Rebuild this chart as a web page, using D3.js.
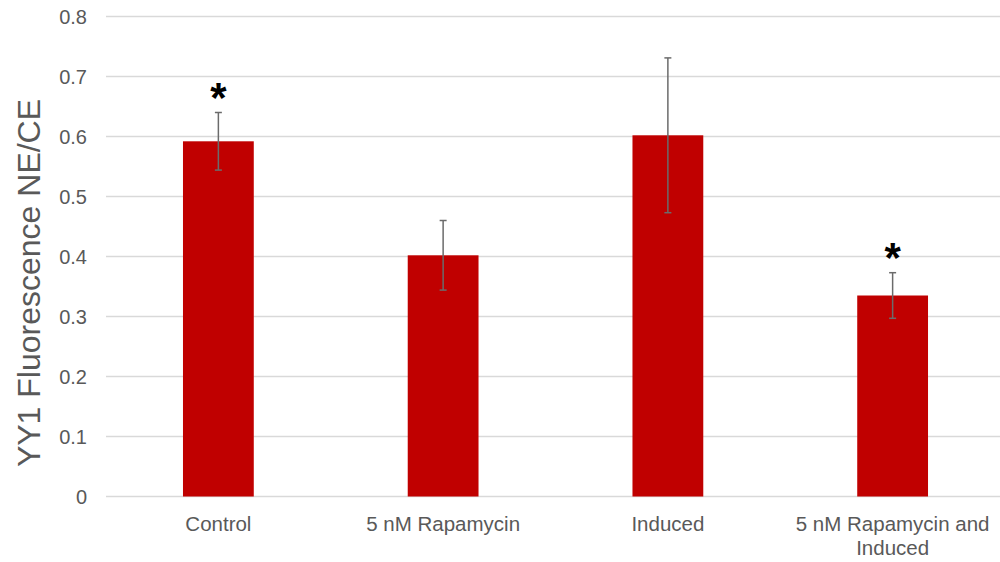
<!DOCTYPE html>
<html>
<head>
<meta charset="utf-8">
<script src="https://cdn.jsdelivr.net/npm/d3@7"></script>
<style>
  html, body { margin: 0; padding: 0; background: #fff; }
  svg { display: block; font-family: "Liberation Sans", Arial, sans-serif; }
</style>
</head>
<body>
<svg id="chart" width="1000" height="562"></svg>
<script>
// Groups, mean NE/CE ratio and error bar half-widths
const categories = ["Control", "5 nM Rapamycin", "Induced", "5 nM Rapamycin and Induced"];
const values = [0.592, 0.402, 0.602, 0.335];
const errors = [0.048, 0.058, 0.129, 0.038];
const significant = [true, false, false, true];
const yTicks = [0, 0.1, 0.2, 0.3, 0.4, 0.5, 0.6, 0.7, 0.8];
const yLabel = "YY1 Fluorescence NE/CE";

const svg = d3.select("#chart");
const plot = { left: 106, right: 1005, top: 16.5, bottom: 496.5 };

const x = d3.scaleBand()
  .domain(categories)
  .range([plot.left, plot.right])
  .paddingInner(0.685)
  .paddingOuter(0.3425);

const y = d3.scaleLinear().domain([0, 0.8]).range([plot.bottom, plot.top]);

// Horizontal gridlines
svg.append("g")
  .selectAll("line")
  .data(yTicks)
  .join("line")
  .attr("x1", plot.left).attr("x2", plot.right)
  .attr("y1", d => y(d)).attr("y2", d => y(d))
  .attr("stroke", "#d9d9d9")
  .attr("stroke-width", 1.5);

// Y axis tick labels
const yAxis = d3.axisLeft(y).tickValues(yTicks).tickSize(0).tickPadding(0)
  .tickFormat(d => d === 0 ? "0" : d3.format(".1f")(d));
const gy = svg.append("g").attr("transform", `translate(${87},1)`).call(yAxis);
gy.select(".domain").remove();
gy.selectAll("text")
  .attr("fill", "#595959")
  .style("font-size", "20px")
  .style("font-family", "'Liberation Sans', Arial, sans-serif");

// Y axis title
svg.append("text")
  .attr("transform", `translate(40,283) rotate(-90)`)
  .attr("text-anchor", "middle")
  .attr("fill", "#595959")
  .style("font-size", "32px")
  .text(yLabel);

// Bars
svg.append("g")
  .selectAll("rect")
  .data(categories)
  .join("rect")
  .attr("x", d => x(d))
  .attr("width", x.bandwidth())
  .attr("y", (d, i) => y(values[i]))
  .attr("height", (d, i) => y(0) - y(values[i]))
  .attr("fill", "#c00000");

// Error bars
const eb = svg.append("g")
  .attr("stroke", "#6b6b6b")
  .attr("stroke-width", 1.5);
categories.forEach((c, i) => {
  const cx = x(c) + x.bandwidth() / 2;
  const hi = y(values[i] + errors[i]);
  const lo = y(values[i] - errors[i]);
  eb.append("line").attr("x1", cx).attr("x2", cx).attr("y1", hi).attr("y2", lo);
  eb.append("line").attr("x1", cx - 3.5).attr("x2", cx + 3.5).attr("y1", hi).attr("y2", hi);
  eb.append("line").attr("x1", cx - 3.5).attr("x2", cx + 3.5).attr("y1", lo).attr("y2", lo);
});

// Significance markers
svg.append("g")
  .selectAll("text")
  .data(categories.filter((c, i) => significant[i]))
  .join("text")
  .attr("x", d => x(d) + x.bandwidth() / 2)
  .attr("y", d => y(values[categories.indexOf(d)] + errors[categories.indexOf(d)]) - 1)
  .attr("text-anchor", "middle")
  .attr("fill", "#000")
  .style("font-size", "42px")
  .style("font-weight", "bold")
  .text("*");

// Category labels (wrapped to the band width)
const labelLines = {
  "Control": ["Control"],
  "5 nM Rapamycin": ["5 nM Rapamycin"],
  "Induced": ["Induced"],
  "5 nM Rapamycin and Induced": ["5 nM Rapamycin and", "Induced"]
};
const xl = svg.append("g");
categories.forEach(c => {
  const t = xl.append("text")
    .attr("x", x(c) + x.bandwidth() / 2)
    .attr("y", 531)
    .attr("text-anchor", "middle")
    .attr("fill", "#595959")
    .style("font-size", "20.5px");
  labelLines[c].forEach((line, k) => {
    t.append("tspan")
      .attr("x", x(c) + x.bandwidth() / 2)
      .attr("dy", k === 0 ? 0 : 24)
      .text(line);
  });
});
</script>
</body>
</html>
